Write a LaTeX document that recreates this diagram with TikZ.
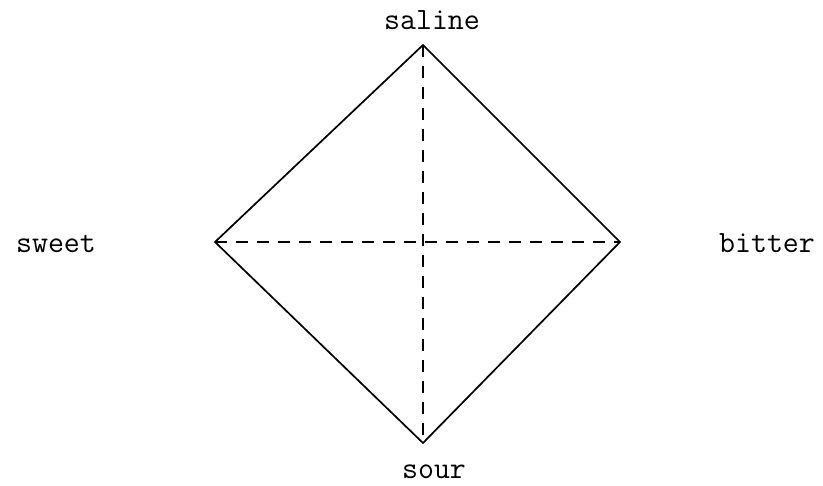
\documentclass[tikz,border=0pt]{standalone}
\usepackage{fontspec}
\begin{document}
\begin{tikzpicture}[x=1pt,y=-1pt,
  lbl/.style={font=\ttfamily\fontsize{31}{34}\selectfont, anchor=base, inner sep=0pt},
  solidedge/.style={line width=1.7pt, line join=miter},
  dashedge/.style={line width=1.5pt, dash pattern=on 12pt off 9pt}]
\useasboundingbox (0,0) rectangle (823,486);
\coordinate (T) at (423,45);
\coordinate (L) at (215,242);
\coordinate (R) at (620,242);
\coordinate (B) at (423,443);
\draw[solidedge] (T) -- (R) -- (B) -- (L) -- cycle;
\draw[dashedge] (T) -- (B);
\draw[dashedge] (L) -- (R);
\node[lbl] (saline) at (432,30) {saline};
\node[lbl] (sweet) at (56,253) {sweet};
\node[lbl] (bitter) at (767,253) {bitter};
\node[lbl] (sour) at (434,479) {sour};
\end{tikzpicture}
\end{document}
